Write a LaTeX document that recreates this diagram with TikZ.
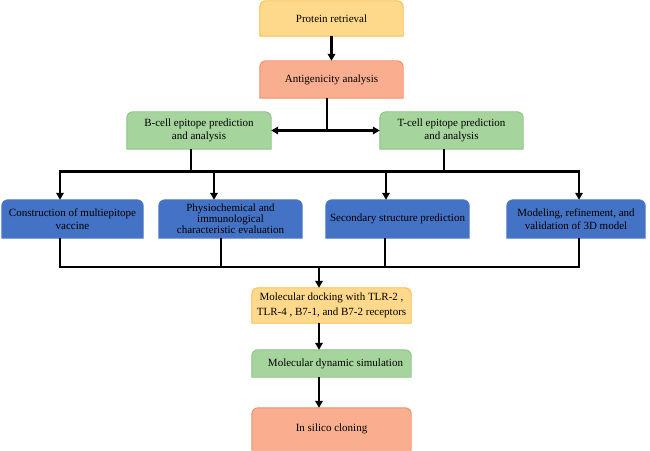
\documentclass[tikz,border=0pt]{standalone}
\usepackage{fontspec}
\setmainfont{Liberation Serif}
\usetikzlibrary{arrows.meta,backgrounds}

\definecolor{ylwfill}{HTML}{FED98B}
\definecolor{ylwline}{HTML}{F7BE48}
\definecolor{salfill}{HTML}{F9AE90}
\definecolor{salline}{HTML}{F2906A}
\definecolor{grnfill}{HTML}{A6D49D}
\definecolor{grnline}{HTML}{8CC584}
\definecolor{blufill}{HTML}{4472C4}
\definecolor{bluline}{HTML}{4A78CC}

% box outline with rounded top corners and square bottom corners
\newcommand\topbox[2]{%
  \path[#2] (#1.south west) -- ([yshift=-6pt]#1.north west)
    arc[start angle=180,end angle=90,radius=6pt]
    -- ([xshift=-6pt]#1.north east)
    arc[start angle=90,end angle=0,radius=6pt]
    -- (#1.south east) -- cycle;}

\tikzset{
  stepnode/.style={inner sep=1pt, align=center, text=black,
    font=\fontsize{11}{13}\selectfont},
  ylwbox/.style={fill=ylwfill, draw=ylwline, line width=0.9pt},
  salbox/.style={fill=salfill, draw=salline, line width=0.9pt},
  grnbox/.style={fill=grnfill, draw=grnline, line width=0.9pt},
  blubox/.style={fill=blufill, draw=bluline, line width=0.9pt},
  bus/.style={line width=2.3pt, line join=miter},
  flow/.style={bus, -{Triangle[length=7pt,width=7.5pt]}},
  twoway/.style={bus, {Triangle[length=7pt,width=7.5pt]}-{Triangle[length=7pt,width=7.5pt]}},
}

\begin{document}
\begin{tikzpicture}[x=1pt,y=1pt]
\useasboundingbox (0,0) rectangle (650,450);

% process steps
\node[stepnode, minimum width=143pt, minimum height=35pt] (pr) at (331.5,431.5) {Protein retrieval};
\node[stepnode, minimum width=143pt, minimum height=37pt] (ag) at (331.5,370.5) {Antigenicity analysis};
\node[stepnode, minimum width=144pt, minimum height=37pt] (bc) at (199,319.5) {B-cell epitope prediction\\and analysis};
\node[stepnode, minimum width=143pt, minimum height=37pt] (tc) at (451.5,319.5) {T-cell epitope prediction\\and analysis};

\node[stepnode, minimum width=141pt, minimum height=38pt] (mv) at (72.5,231) {Construction of multiepitope\\vaccine};
\node[stepnode, minimum width=143pt, minimum height=38pt, font=\fontsize{11}{11}\selectfont] (pc) at (230.5,231) {Physiochemical and\\immunological\\characteristic evaluation};
\node[stepnode, minimum width=143pt, minimum height=38pt] (ss) at (397.5,231) {Secondary structure prediction};
\node[stepnode, minimum width=138pt, minimum height=38pt] (md) at (576,231) {Modeling, refinement, and\\validation of 3D model};

\node[stepnode, minimum width=159pt, minimum height=35pt, font=\fontsize{11}{15}\selectfont] (dk) at (331.5,144.5) {Molecular docking with TLR-2 ,\\TLR-4 , B7-1, and B7-2 receptors};
\node[stepnode, minimum width=159pt, minimum height=27pt] (ds) at (331.5,86.5) {\hspace{8pt}Molecular dynamic simulation};
\node[stepnode, minimum width=159pt, minimum height=42pt] (cl) at (331.5,21) {In silico cloning};

\begin{pgfonlayer}{background}
  \topbox{pr}{ylwbox}
  \topbox{ag}{salbox}
  \topbox{bc}{grnbox}
  \topbox{tc}{grnbox}
  \topbox{mv}{blubox}
  \topbox{pc}{blubox}
  \topbox{ss}{blubox}
  \topbox{md}{blubox}
  \topbox{dk}{ylwbox}
  \topbox{ds}{grnbox}
  \topbox{cl}{salbox}
\end{pgfonlayer}

% junction points of the connectors
\coordinate (split) at (327,319.5);
\coordinate (bdrop) at (191,278.5);
\coordinate (tdrop) at (444,278.5);
\coordinate (tl) at (60,278.5);
\coordinate (tr) at (579,278.5);
\coordinate (t2) at (214,278.5);
\coordinate (t3) at (386,278.5);
\coordinate (bl) at (60,183);
\coordinate (br) at (579,183);
\coordinate (b2) at (221,183);
\coordinate (b3) at (385,183);
\coordinate (bm) at (319,183);

% connectors
\draw[flow] (pr.south) -- (ag.north);
\draw[bus] (ag.south -| split) -- (split);
\draw[twoway] (bc.east) -- (tc.west);
\draw[bus] (bc.south -| bdrop) -- (bdrop);
\draw[bus] (tc.south -| tdrop) -- (tdrop);
\draw[flow] (tr) -- (tl) -- (tl |- mv.north);
\draw[flow] (tl) -- (tr) -- (tr |- md.north);
\draw[flow] (t2) -- (t2 |- pc.north);
\draw[flow] (t3) -- (t3 |- ss.north);

\draw[bus] (mv.south -| bl) -- (bl) -- (br) -- (md.south -| br);
\draw[bus] (pc.south -| b2) -- (b2);
\draw[bus] (ss.south -| b3) -- (b3);
\draw[flow] (bm) -- (bm |- dk.north);
\draw[flow] (dk.south -| bm) -- (ds.north -| bm);
\draw[flow] (ds.south -| bm) -- (cl.north -| bm);
\end{tikzpicture}
\end{document}
